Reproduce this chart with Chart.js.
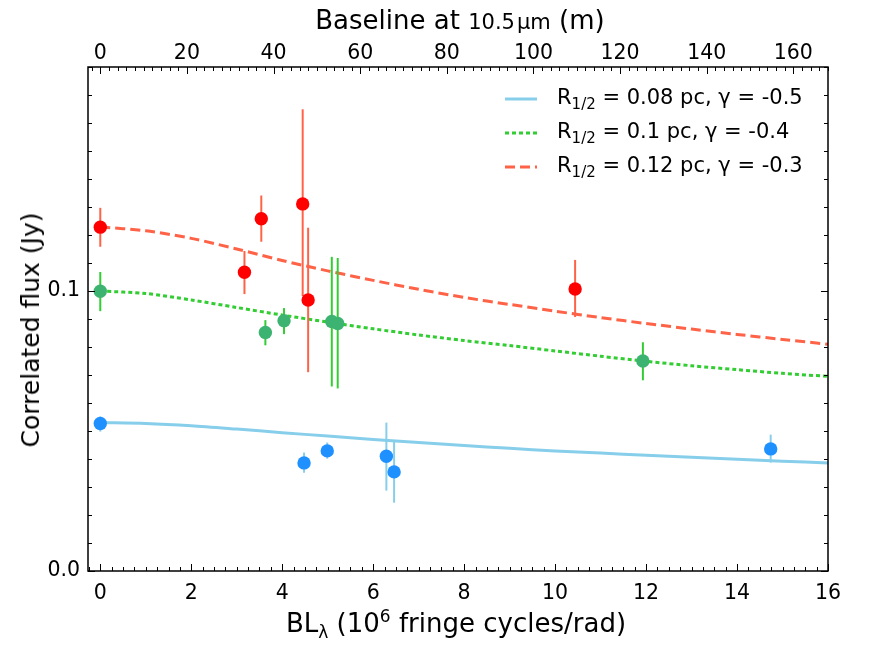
<!DOCTYPE html>
<html>
<head>
<meta charset="utf-8">
<script src="https://cdn.jsdelivr.net/npm/chart.js@4.4.1/dist/chart.umd.min.js"></script>
<style>
  body { margin: 0; background: #fff; }
  #wrap { position: relative; width: 872px; height: 654px; font-family: "DejaVu Sans", sans-serif; color: #000; }
  canvas { position: absolute; left: 0; top: 0; }
  .lbl { position: absolute; white-space: nowrap; font-size: 26px; line-height: 30px; }
  .lbl sub, .lbl sup { font-size: 17px; }
  #legend { position: absolute; left: 505px; top: 82px; font-size: 21px; }
  #legend .row { height: 34px; display: flex; align-items: center; }
  #legend svg { margin-right: 20px; }
  #legend sub { font-size: 15px; }
</style>
</head>
<body>
<div id="wrap">
  <canvas id="chart" width="872" height="654"></canvas>
  <div class="lbl" id="topTitle" style="left:460px; top:5px; transform:translateX(-50%);">Baseline at <span style="font-size:21px">10.5&#8202;μm</span> (m)</div>
  <div class="lbl" id="botTitle" style="left:456px; top:601px; transform:translateX(-50%);">BL<sub>λ</sub> (10<sup>6</sup> fringe cycles/rad)</div>
  <div class="lbl" id="yTitle" style="left:31px; top:330px; font-size:25px; transform:translate(-50%,-50%) rotate(-90deg);">Correlated flux (Jy)</div>
  <div id="legend"></div>
</div>
<script>
// measured points (x in 10^6 cycles/rad, y in Jy)
const redX = [0, 3.17, 3.54, 4.45, 4.57, 10.44];
const redY = [0.1228, 0.1067, 0.1258, 0.1311, 0.0968, 0.1007];
const redLo = [0.1158, 0.0989, 0.1176, 0.0982, 0.0710, 0.0907];
const redHi = [0.1297, 0.1143, 0.1341, 0.1649, 0.1226, 0.1111];

const greenX = [0, 3.63, 4.04, 5.09, 5.22, 11.93];
const greenY = [0.0999, 0.0852, 0.0894, 0.0891, 0.0884, 0.0750];
const greenLo = [0.0928, 0.0806, 0.0846, 0.0659, 0.0652, 0.0681];
const greenHi = [0.1068, 0.0896, 0.0939, 0.1122, 0.1118, 0.0817];

const blueX = [0, 4.48, 4.99, 6.29, 6.46, 14.74];
const blueY = [0.0527, 0.0386, 0.0429, 0.0410, 0.0354, 0.0436];
const blueLo = [0.0498, 0.0351, 0.0401, 0.0287, 0.0244, 0.0387];
const blueHi = [0.0552, 0.0423, 0.0459, 0.0530, 0.0462, 0.0487];

// model curves
const modelX = [0, 1, 2, 3, 4, 5, 6, 7, 8, 9, 10, 11, 12, 13, 14, 15, 16];
const modelBlue = [0.0530, 0.0527, 0.0519, 0.0507, 0.0494, 0.0482, 0.0470, 0.0459, 0.0448, 0.0438, 0.0429, 0.0421, 0.0413, 0.0406, 0.0399, 0.0392, 0.0386];
const modelGreen = [0.1000, 0.0991, 0.0968, 0.0941, 0.0914, 0.0889, 0.0865, 0.0843, 0.0823, 0.0805, 0.0786, 0.0767, 0.0749, 0.0733, 0.0719, 0.0706, 0.0695];
const modelRed = [0.1229, 0.1215, 0.1188, 0.1150, 0.1109, 0.1072, 0.1038, 0.1006, 0.0977, 0.0952, 0.0928, 0.0905, 0.0884, 0.0864, 0.0845, 0.0827, 0.0810];

const legendLabels = [
  'R<sub>1/2</sub> = 0.08 pc, γ = -0.5',
  'R<sub>1/2</sub> = 0.1 pc, γ = -0.4',
  'R<sub>1/2</sub> = 0.12 pc, γ = -0.3'
];

const xMin = -0.27, xMax = 16;
const yMin = 0, yMax = 0.18;
const metresPerUnit = 10.5;

const pts = (xs, ys) => xs.map((x, i) => ({x: x, y: ys[i]}));

const range = (a, b, step) => {
  const out = [];
  for (let v = Math.ceil(a / step - 1e-9) * step; v <= b + 1e-9; v += step) out.push(Math.round(v * 1e6) / 1e6);
  return out;
};

const setTicks = (step, majorEvery) => (s) => {
  s.ticks = range(s.min, s.max, step).map(v => ({value: v, major: Math.abs(v / majorEvery - Math.round(v / majorEvery)) < 1e-6}));
};

const lineDs = (data, color, dash, lw) => ({
  type: 'line', data: data, borderColor: color, borderWidth: lw, borderDash: dash,
  pointRadius: 0, fill: false, tension: 0.3, order: 3
});

const pointDs = (data, color, errColor, lo, hi) => ({
  type: 'scatter', data: data, backgroundColor: color, borderWidth: 0,
  pointRadius: 6.7, errColor: errColor, errLo: lo, errHi: hi, order: 1
});

const errorBars = {
  id: 'errorBars',
  beforeDatasetDraw(chart, args) {
    const ds = chart.data.datasets[args.index];
    if (!ds.errLo) return;
    const {ctx} = chart;
    const x = chart.scales.x, y = chart.scales.y;
    ctx.save();
    ctx.strokeStyle = ds.errColor;
    ctx.lineWidth = 2;
    ds.data.forEach((p, i) => {
      const px = x.getPixelForValue(p.x);
      ctx.beginPath();
      ctx.moveTo(px, y.getPixelForValue(ds.errLo[i]));
      ctx.lineTo(px, y.getPixelForValue(ds.errHi[i]));
      ctx.stroke();
    });
    ctx.restore();
  }
};

const frame = {
  id: 'frame',
  afterDraw(chart) {
    const {ctx, chartArea: a, scales} = chart;
    ctx.save();
    ctx.strokeStyle = '#000';
    ctx.lineWidth = 1;
    const mark = (scale, side) => {
      scale.ticks.forEach(t => {
        const len = t.major ? 7 : 4;
        const p = Math.round(scale.getPixelForValue(t.value)) + 0.5;
        ctx.beginPath();
        if (side === 'bottom') { ctx.moveTo(p, a.bottom); ctx.lineTo(p, a.bottom - len); }
        if (side === 'top') { ctx.moveTo(p, a.top); ctx.lineTo(p, a.top + len); }
        if (side === 'left') { ctx.moveTo(a.left, p); ctx.lineTo(a.left + len, p); }
        if (side === 'right') { ctx.moveTo(a.right, p); ctx.lineTo(a.right - len, p); }
        ctx.stroke();
      });
    };
    mark(scales.x, 'bottom');
    mark(scales.x2, 'top');
    mark(scales.y, 'left');
    mark(scales.y2, 'right');
    ctx.lineWidth = 1.5;
    ctx.strokeRect(a.left, a.top, a.right - a.left, a.bottom - a.top);
    ctx.restore();
  }
};

const tickFont = {family: 'DejaVu Sans', size: 20.5};

new Chart(document.getElementById('chart'), {
  data: {
    datasets: [
      lineDs(pts(modelX, modelBlue), '#87ceeb', [], 3),
      lineDs(pts(modelX, modelGreen), '#32cd32', [4, 3], 3),
      lineDs(pts(modelX, modelRed), '#ff6347', [10, 5], 3),
      pointDs(pts(blueX, blueY), '#1e90ff', '#87ceeb', blueLo, blueHi),
      pointDs(pts(greenX, greenY), '#3cb371', '#32cd32', greenLo, greenHi),
      pointDs(pts(redX, redY), '#ff0000', '#ff6347', redLo, redHi)
    ]
  },
  options: {
    responsive: false,
    animation: false,
    layout: { padding: 0 },
    plugins: { legend: { display: false }, tooltip: { enabled: false } },
    scales: {
      x: {
        type: 'linear', position: 'bottom', min: xMin, max: xMax,
        afterBuildTicks: setTicks(0.25, 2),
        afterFit: s => { s.height = 83; },
        grid: { display: false, drawTicks: false },
        border: { display: false },
        ticks: { autoSkip: false, maxRotation: 0, padding: 10, color: '#000', font: tickFont,
          callback: v => (Math.abs(v / 2 - Math.round(v / 2)) < 1e-6 ? String(Math.round(v)) : '') }
      },
      x2: {
        type: 'linear', position: 'top', min: xMin * metresPerUnit, max: xMax * metresPerUnit,
        afterBuildTicks: setTicks(2, 20),
        afterFit: s => { s.height = 67; },
        grid: { display: false, drawTicks: false },
        border: { display: false },
        ticks: { autoSkip: false, maxRotation: 0, padding: 1, color: '#000', font: tickFont,
          callback: v => (Math.abs(v / 20 - Math.round(v / 20)) < 1e-6 ? String(Math.round(v)) : '') }
      },
      y: {
        type: 'linear', position: 'left', min: yMin, max: yMax,
        afterBuildTicks: setTicks(0.01, 0.1),
        afterFit: s => { s.width = 88; },
        grid: { display: false, drawTicks: false },
        border: { display: false },
        ticks: { autoSkip: false, padding: 8, color: '#000', font: tickFont,
          callback: v => (Math.abs(v / 0.1 - Math.round(v / 0.1)) < 1e-6 ? v.toFixed(1) : '') }
      },
      y2: {
        type: 'linear', position: 'right', min: yMin, max: yMax,
        afterBuildTicks: setTicks(0.01, 0.1),
        afterFit: s => { s.width = 44; },
        grid: { display: false, drawTicks: false },
        border: { display: false },
        ticks: { display: false }
      }
    }
  },
  plugins: [errorBars, frame]
});

// legend (HTML, so the subscripts stay as text)
const legendStyles = [
  {color: '#87ceeb', dash: ''},
  {color: '#32cd32', dash: '4 3'},
  {color: '#ff6347', dash: '10 5'}
];
document.getElementById('legend').innerHTML = legendLabels.map((t, i) =>
  `<div class="row"><svg width="32" height="10"><line x1="0" y1="5" x2="32" y2="5" stroke="${legendStyles[i].color}" stroke-width="3" stroke-dasharray="${legendStyles[i].dash}"/></svg><span>${t}</span></div>`
).join('');
</script>
</body>
</html>
